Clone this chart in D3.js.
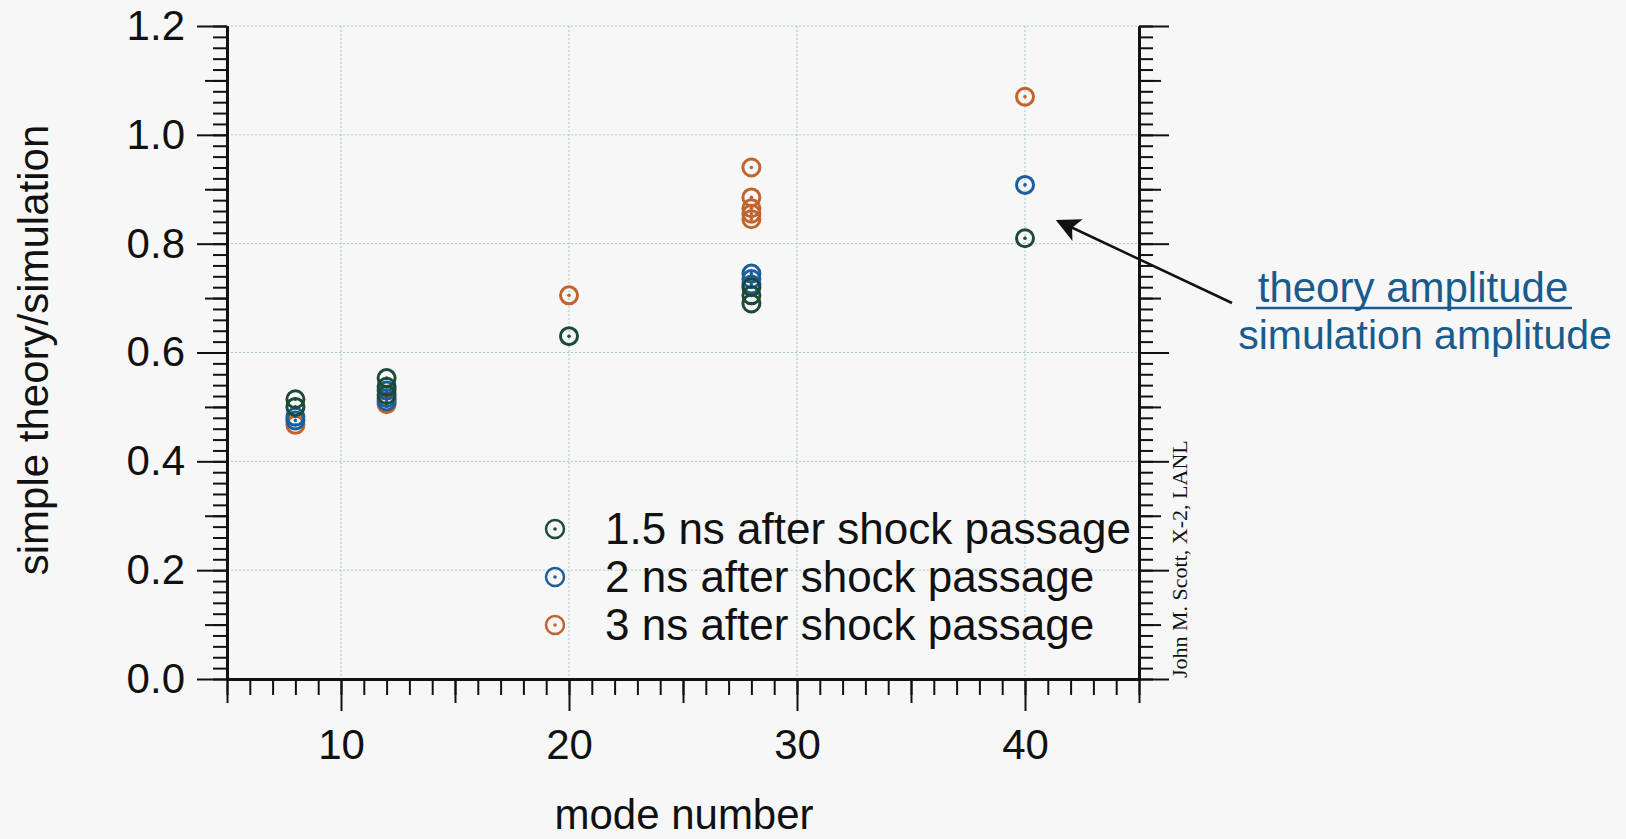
<!DOCTYPE html>
<html>
<head>
<meta charset="utf-8">
<script src="https://cdn.jsdelivr.net/npm/d3@7"></script>
<style>
  body { margin: 0; background: #f7f7f7; }
  text { font-family: "Liberation Sans", Arial, sans-serif; }
  .axis path, .axis line { stroke: #111; }
</style>
</head>
<body>
<div id="scatter"></div>
<script>
var svgWidth = 1626;
var svgHeight = 839;

// tick labels
var xTickLabels = [10, 20, 30, 40];
var yTickLabels = [0.0, 0.2, 0.4, 0.6, 0.8, 1.0, 1.2];

// legend
var seriesNames = ["1.5 ns after shock passage", "2 ns after shock passage", "3 ns after shock passage"];
var seriesColors = ["#1d4a38", "#1b5e9c", "#c2632b"];

// series values (mode number, theory/simulation ratio)
var series15Mode = [8, 8, 12, 12, 12, 20, 28, 28, 28, 40];
var series15Ratio = [0.514, 0.500, 0.553, 0.537, 0.522, 0.630, 0.720, 0.705, 0.690, 0.810];
var series2Mode = [8, 8, 12, 12, 12, 28, 28, 28, 40];
var series2Ratio = [0.482, 0.475, 0.530, 0.516, 0.510, 0.745, 0.735, 0.725, 0.908];
var series3Mode = [8, 12, 20, 28, 28, 28, 28, 28, 40];
var series3Ratio = [0.467, 0.505, 0.705, 0.940, 0.885, 0.865, 0.855, 0.845, 1.070];

var margin = { top: 26, right: 487, bottom: 160, left: 227 };
var width = svgWidth - margin.left - margin.right;
var height = svgHeight - margin.top - margin.bottom;

var svg = d3.select("#scatter")
  .append("svg")
  .attr("width", svgWidth)
  .attr("height", svgHeight);

var chartGroup = svg.append("g")
  .attr("transform", `translate(${margin.left}, ${margin.top})`);

var xLinearScale = d3.scaleLinear().domain([5, 45]).range([0, width]);
var yLinearScale = d3.scaleLinear().domain([0, 1.2]).range([height, 0]);

// dotted grid
var gridColor = "#a3c6cc";
chartGroup.selectAll(".vgrid")
  .data(xTickLabels)
  .enter()
  .append("line")
  .attr("x1", d => xLinearScale(d))
  .attr("x2", d => xLinearScale(d))
  .attr("y1", 0)
  .attr("y2", height)
  .attr("stroke", gridColor)
  .attr("stroke-width", 1)
  .attr("stroke-dasharray", "2,2");

chartGroup.selectAll(".hgrid")
  .data(yTickLabels.slice(1))
  .enter()
  .append("line")
  .attr("x1", 0)
  .attr("x2", width)
  .attr("y1", d => yLinearScale(d))
  .attr("y2", d => yLinearScale(d))
  .attr("stroke", gridColor)
  .attr("stroke-width", 1)
  .attr("stroke-dasharray", "2,2");

// axes: minor, medium, major tick layers
function tickLayer(axisFn, scale, values, size, labels, transform) {
  var ax = axisFn(scale).tickValues(values).tickSize(size).tickSizeOuter(0);
  if (!labels) ax.tickFormat("");
  var g = chartGroup.append("g").attr("class", "axis").attr("transform", transform);
  g.call(ax);
  g.selectAll("line").attr("stroke-width", 2);
  g.select(".domain").attr("stroke-width", 2.5);
  return g;
}

var xMinor = d3.range(5, 46, 1);
var xMedium = [5, 15, 25, 35, 45];
var yMinor = d3.range(0, 61).map(d => d * 0.02);
var yMedium = [0.1, 0.3, 0.5, 0.7, 0.9, 1.1];

var bottomT = `translate(0, ${height})`;
tickLayer(d3.axisBottom, xLinearScale, xMinor, 16, false, bottomT);
tickLayer(d3.axisBottom, xLinearScale, xMedium, 24, false, bottomT);
var xMajor = tickLayer(d3.axisBottom, xLinearScale, xTickLabels, 32, true, bottomT);
xMajor.selectAll("text")
  .attr("y", 80)
  .attr("dy", "0")
  .attr("font-size", 42)
  .attr("font-family", "Liberation Sans, Arial, sans-serif")
  .attr("fill", "#111");

tickLayer(d3.axisLeft, yLinearScale, yMinor, 14, false, null);
tickLayer(d3.axisLeft, yLinearScale, yMedium, 22, false, null);
var yMajor = tickLayer(d3.axisLeft, yLinearScale, yTickLabels, 30, true, null);
yMajor.selectAll("text")
  .text(d => d3.format(".1f")(d))
  .attr("x", -42)
  .attr("font-size", 42)
  .attr("font-family", "Liberation Sans, Arial, sans-serif")
  .attr("fill", "#111");

var rightT = `translate(${width}, 0)`;
tickLayer(d3.axisRight, yLinearScale, yMinor, 14, false, rightT);
tickLayer(d3.axisRight, yLinearScale, yMedium, 22, false, rightT);
tickLayer(d3.axisRight, yLinearScale, yTickLabels, 30, false, rightT);

// points
function drawSeries(modes, ratios, color) {
  var pts = modes.map((m, i) => ({ mode: m, ratio: ratios[i] }));
  var g = chartGroup.append("g");
  g.selectAll("circle.ring")
    .data(pts)
    .enter()
    .append("circle")
    .attr("class", "ring")
    .attr("cx", d => xLinearScale(d.mode))
    .attr("cy", d => yLinearScale(d.ratio))
    .attr("r", 8.5)
    .attr("fill", "none")
    .attr("stroke", color)
    .attr("stroke-width", 3);
  g.selectAll("circle.dot")
    .data(pts)
    .enter()
    .append("circle")
    .attr("class", "dot")
    .attr("cx", d => xLinearScale(d.mode))
    .attr("cy", d => yLinearScale(d.ratio))
    .attr("r", 1.8)
    .attr("fill", color);
}
drawSeries(series3Mode, series3Ratio, seriesColors[2]);
drawSeries(series2Mode, series2Ratio, seriesColors[1]);
drawSeries(series15Mode, series15Ratio, seriesColors[0]);

// legend
var legend = svg.append("g").attr("transform", "translate(555, 529)");
seriesNames.forEach(function(name, i) {
  var row = legend.append("g").attr("transform", `translate(0, ${i * 48})`);
  row.append("circle").attr("r", 9).attr("fill", "none")
    .attr("stroke", seriesColors[i]).attr("stroke-width", 2.5);
  row.append("circle").attr("r", 1.8).attr("fill", seriesColors[i]);
  row.append("text")
    .attr("x", 50)
    .attr("y", 15)
    .attr("font-size", 44)
    .attr("fill", "#111")
    .text(name);
});

// axis titles
svg.append("text")
  .attr("transform", "translate(684, 829)")
  .attr("text-anchor", "middle")
  .attr("font-size", 42)
  .attr("fill", "#111")
  .text("mode number");

svg.append("text")
  .attr("transform", "translate(48, 350) rotate(-90)")
  .attr("text-anchor", "middle")
  .attr("font-size", 42)
  .attr("fill", "#111")
  .text("simple theory/simulation");

// credit
svg.append("text")
  .attr("transform", "translate(1187, 678) rotate(-90)")
  .style("font-family", "'Liberation Serif', 'Times New Roman', serif")
  .attr("font-size", 22)
  .attr("fill", "#111")
  .text("John M. Scott, X-2, LANL");

// annotation arrow
svg.append("defs").append("marker")
  .attr("id", "head")
  .attr("viewBox", "0 0 10 10")
  .attr("refX", 9)
  .attr("refY", 5)
  .attr("markerWidth", 32)
  .attr("markerHeight", 24)
  .attr("markerUnits", "userSpaceOnUse")
  .attr("orient", "auto")
  .append("path")
  .attr("d", "M0,0 L10,5 L0,10 L2.5,5 Z")
  .attr("fill", "#111");

svg.append("line")
  .attr("x1", 1232).attr("y1", 303)
  .attr("x2", 1058).attr("y2", 221)
  .attr("stroke", "#111")
  .attr("stroke-width", 2.5)
  .attr("marker-end", "url(#head)");

var annColor = "#1b5a8c";
svg.append("text")
  .attr("x", 1413).attr("y", 302)
  .attr("text-anchor", "middle")
  .attr("font-size", 42)
  .attr("fill", annColor)
  .text("theory amplitude");
svg.append("line")
  .attr("x1", 1256).attr("x2", 1572)
  .attr("y1", 308).attr("y2", 308)
  .attr("stroke", annColor)
  .attr("stroke-width", 2.5);
svg.append("text")
  .attr("x", 1425).attr("y", 349)
  .attr("text-anchor", "middle")
  .attr("font-size", 41)
  .attr("fill", annColor)
  .text("simulation amplitude");
</script>
</body>
</html>
